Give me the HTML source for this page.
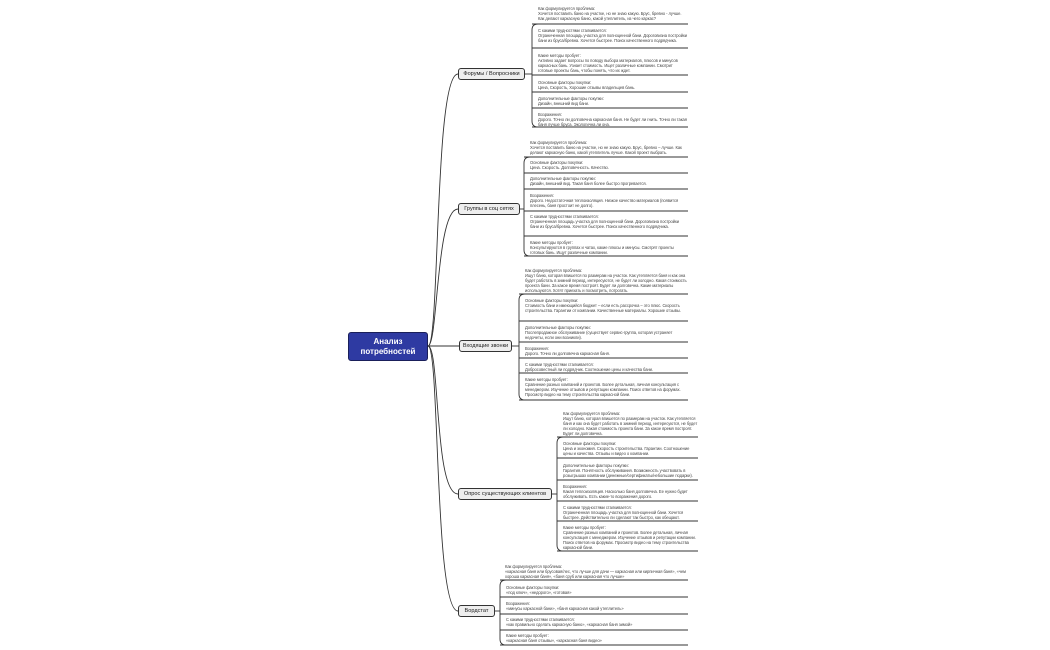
<!DOCTYPE html>
<html><head><meta charset="utf-8"><style>
body{margin:0;width:1050px;height:650px;background:#fff;position:relative;overflow:hidden;font-family:"Liberation Sans","DejaVu Sans",sans-serif}
svg{position:absolute;left:0;top:0}
.t{position:absolute;font-size:4.1px;line-height:5.1px;color:#444;letter-spacing:-0.05px}
.n{position:absolute;background:#eeeeee;border:1px solid #333;border-radius:3px;font-size:5.6px;color:#222;display:flex;align-items:center;justify-content:center;box-sizing:border-box;white-space:nowrap}
.root{position:absolute;left:348px;top:332px;width:80px;height:29px;background:#2e3aa2;border:1px solid #1a1f5a;border-radius:3px;color:#fff;font-size:8px;font-weight:bold;text-align:center;line-height:9.5px;box-sizing:border-box;padding-top:4px}
</style></head><body>
<svg width="1050" height="650" fill="none" stroke="#333" stroke-width="0.9">
<path d="M428 346 C440 346,434 74,458 74"/>
<path d="M428 346 C438 346,436 209,458 209"/>
<path d="M428 346 L459 346"/>
<path d="M428 346 C440 346,434 494,458 494"/>
<path d="M428 346 C440 346,434 611,458 611"/>
<path d="M525 74 L532 74"/>
<path d="M538 24 Q532 24 532 30 L532 121 Q532 127 538 127"/>
<path d="M532 24H688M532 48H688M532 75H688M532 92H688M532 108H688M532 127H688"/>
<path d="M520 209 L524 209"/>
<path d="M530 157 Q524 157 524 163 L524 250 Q524 256 530 256"/>
<path d="M524 157H688M524 173H688M524 189H688M524 211H688M524 236H688M524 256H688"/>
<path d="M512 346 L519 346"/>
<path d="M525 294 Q519 294 519 300 L519 394 Q519 400 525 400"/>
<path d="M519 294H688M519 321H688M519 342H688M519 358H688M519 373H688M519 400H688"/>
<path d="M552 494 L557 494"/>
<path d="M563 437 Q557 437 557 443 L557 545 Q557 551 563 551"/>
<path d="M557 437H698M557 458H698M557 480H698M557 501H698M557 521H698M557 551H698"/>
<path d="M495 611 L500 611"/>
<path d="M506 580 Q500 580 500 586 L500 639 Q500 645 506 645"/>
<path d="M500 580H688M500 597H688M500 614H688M500 630H688M500 645H688"/>
</svg>
<div class="root">Анализ<br>потребностей</div>
<div class="n" style="left:458px;top:68px;width:67px;height:12px">Форумы / Вопросники</div>
<div class="n" style="left:458px;top:203px;width:62px;height:12px">Группы в соц сетях</div>
<div class="n" style="left:459px;top:340px;width:53px;height:12px">Входящие звонки</div>
<div class="n" style="left:458px;top:488px;width:94px;height:12px">Опрос существующих клиентов</div>
<div class="n" style="left:458px;top:605px;width:37px;height:12px">Вордстат</div>

<div class="t" style="left:538px;top:6px;width:150px">Как формулируется проблема:<br>Хочется поставить баню на участке, но не знаю какую. Брус, бревно - лучше. Как делают каркасную баню, какой утеплитель, из чего каркас?</div>
<div class="t" style="left:538px;top:28px;width:150px">С какими трудностями сталкивается:<br>Ограниченная площадь участка для полноценной бани. Дороговизна постройки бани из бруса/бревна. Хочется быстрее. Поиск качественного подрядчика.</div>
<div class="t" style="left:538px;top:53px;width:150px">Какие методы пробует:<br>Активно задает вопросы по поводу выбора материалов, плюсов и минусов каркасных бань. Узнает стоимость. Ищет различные компании. Смотрит готовые проекты бань, чтобы понять, что их ждет.</div>
<div class="t" style="left:538px;top:80px;width:150px">Основные факторы покупки:<br>Цена, Скорость, Хорошие отзывы владельцев бань.</div>
<div class="t" style="left:538px;top:96px;width:150px">Дополнительные факторы покупки:<br>Дизайн, внешний вид бани.</div>
<div class="t" style="left:538px;top:112px;width:150px">Возражения:<br>Дорого. Точно ли долговечна каркасная баня. Не будет ли гнить. Точно ли такая баня лучше бруса. Экологична ли она.</div>

<div class="t" style="left:530px;top:140px;width:158px">Как формулируется проблема:<br>Хочется поставить баню на участке, но не знаю какую. Брус, бревно – лучше. Как делают каркасную баню, какой утеплитель лучше. Какой проект выбрать.</div>
<div class="t" style="left:530px;top:160px;width:158px">Основные факторы покупки:<br>Цена. Скорость. Долговечность. Качество.</div>
<div class="t" style="left:530px;top:176px;width:158px">Дополнительные факторы покупки:<br>Дизайн, внешний вид. Такая баня более быстро прогревается.</div>
<div class="t" style="left:530px;top:193px;width:158px">Возражения:<br>Дорого. Недостаточная теплоизоляция. Низкое качество материалов (появится плесень, баня простоит не долго).</div>
<div class="t" style="left:530px;top:214px;width:158px">С какими трудностями сталкивается:<br>Ограниченная площадь участка для полноценной бани. Дороговизна постройки бани из бруса/бревна. Хочется быстрее. Поиск качественного подрядчика.</div>
<div class="t" style="left:530px;top:240px;width:158px">Какие методы пробует:<br>Консультируются в группах и чатах, какие плюсы и минусы. Смотрят проекты готовых бань. Ищут различные компании.</div>

<div class="t" style="left:525px;top:268px;width:162px">Как формулируется проблема:<br>Ищут баню, которая впишется по размерам на участок. Как утепляется баня и как она будет работать в зимний период, интересуются, не будет ли холодно. Какая стоимость проекта бани. За какое время построят. Будет ли долговечна. Какие материалы используются. Хотят приехать и посмотреть, потрогать.</div>
<div class="t" style="left:525px;top:298px;width:162px">Основные факторы покупки:<br>Стоимость бани и имеющийся бюджет – если есть рассрочка – это плюс. Скорость строительства. Гарантии от компании. Качественные материалы. Хорошие отзывы.</div>
<div class="t" style="left:525px;top:325px;width:162px">Дополнительные факторы покупки:<br>Послепродажное обслуживание (существует сервис-группа, которая устраняет недочеты, если они возникли).</div>
<div class="t" style="left:525px;top:346px;width:162px">Возражения:<br>Дорого. Точно ли долговечна каркасная баня.</div>
<div class="t" style="left:525px;top:362px;width:162px">С какими трудностями сталкивается:<br>Добросовестный ли подрядчик. Соотношение цены и качества бани.</div>
<div class="t" style="left:525px;top:377px;width:162px">Какие методы пробует:<br>Сравнение разных компаний и проектов. Более детальная, личная консультация с менеджером. Изучение отзывов и репутации компании. Поиск ответов на форумах. Просмотр видео на тему строительства каркасной бани.</div>

<div class="t" style="left:563px;top:411px;width:135px">Как формулируется проблема:<br>Ищут баню, которая впишется по размерам на участок. Как утепляется баня и как она будет работать в зимний период, интересуются, не будет ли холодно. Какая стоимость проекта бани. За какое время построят. Будет ли долговечна.</div>
<div class="t" style="left:563px;top:441px;width:135px">Основные факторы покупки:<br>Цена и экономия. Скорость строительства. Гарантии. Соотношение цены и качества. Отзывы и видео о компании.</div>
<div class="t" style="left:563px;top:463px;width:135px">Дополнительные факторы покупки:<br>Гарантия. Понятность обслуживания. Возможность участвовать в розыгрышах компании (денежные/сертификаты/небольшие подарки).</div>
<div class="t" style="left:563px;top:484px;width:135px">Возражения:<br>Какая теплоизоляция. Насколько баня долговечна. Ее нужно будет обслуживать. Есть какие-то возражения дорого.</div>
<div class="t" style="left:563px;top:505px;width:135px">С какими трудностями сталкивается:<br>Ограниченная площадь участка для полноценной бани. Хочется быстрее. Действительно ли сделают так быстро, как обещают.</div>
<div class="t" style="left:563px;top:525px;width:135px">Какие методы пробует:<br>Сравнение разных компаний и проектов. Более детальная, личная консультация с менеджером. Изучение отзывов и репутации компании. Поиск ответов на форумах. Просмотр видео на тему строительства каркасной бани.</div>

<div class="t" style="left:505px;top:564px;width:183px">Как формулируется проблема:<br>«каркасная баня или брусовая/лес, что лучше для дачи — каркасная или кирпичная баня», «чем хороша каркасная баня», «баня сруб или каркасная что лучше»</div>
<div class="t" style="left:506px;top:585px;width:183px">Основные факторы покупки:<br>«под ключ», «недорого», «готовая»</div>
<div class="t" style="left:506px;top:601px;width:183px">Возражения:<br>«минусы каркасной бани», «баня каркасная какой утеплитель»</div>
<div class="t" style="left:506px;top:617px;width:183px">С какими трудностями сталкивается:<br>«как правильно сделать каркасную баню», «каркасная баня зимой»</div>
<div class="t" style="left:506px;top:633px;width:183px">Какие методы пробует:<br>«каркасная баня отзывы», «каркасная баня видео»</div>
</body></html>
